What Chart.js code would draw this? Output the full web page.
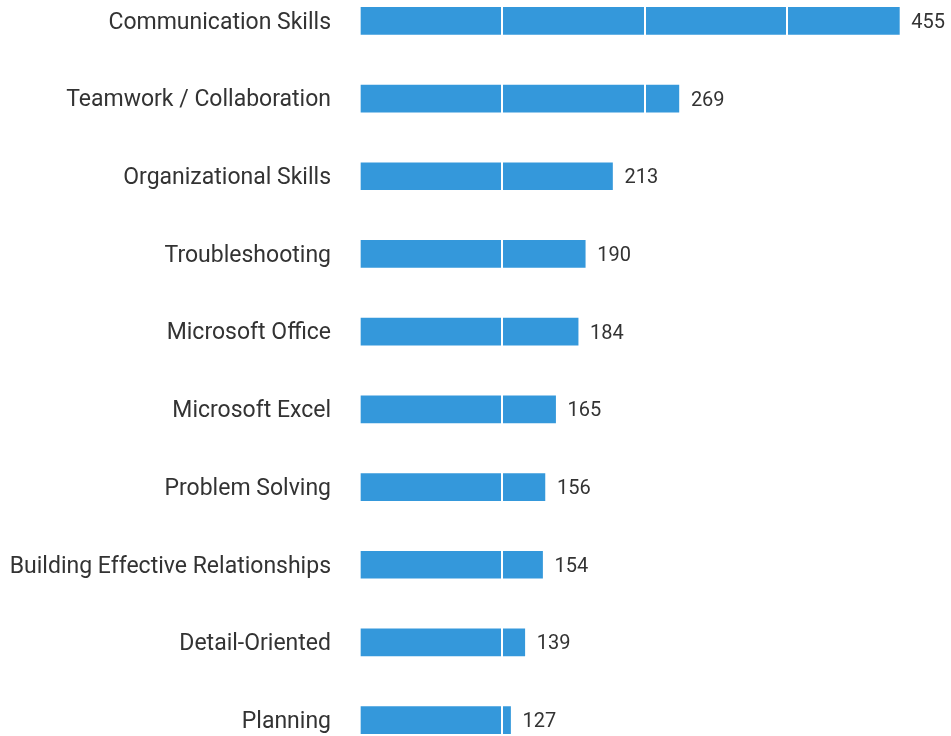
<!DOCTYPE html>
<html>
<head>
<meta charset="utf-8">
<script src="https://cdn.jsdelivr.net/npm/chart.js@4"></script>
<style>
    html, body { margin: 0; padding: 0; background: #fff; overflow: hidden; }
    #skillsChart { position: absolute; left: 0; top: -18px; }
</style>
</head>
<body>
<canvas id="skillsChart" width="951" height="777"></canvas>
<script>
// Habilidades más pedidas
const skills = [
    'Communication Skills',
    'Teamwork / Collaboration',
    'Organizational Skills',
    'Troubleshooting',
    'Microsoft Office',
    'Microsoft Excel',
    'Problem Solving',
    'Building Effective Relationships',
    'Detail-Oriented',
    'Planning'
];
const counts = [455, 269, 213, 190, 184, 165, 156, 154, 139, 127];

const barColor = '#3498db';
const textColor = '#333333';

// etiquetas de valor a la derecha de cada barra
const valueLabels = {
    id: 'valueLabels',
    afterDraw(chart) {
        const ctx = chart.ctx;
        const meta = chart.getDatasetMeta(0);
        ctx.save();
        ctx.font = '20px Roboto';
        ctx.fillStyle = textColor;
        ctx.textAlign = 'left';
        ctx.textBaseline = 'middle';
        meta.data.forEach((bar, i) => {
            ctx.fillText(String(counts[i]), bar.x + 12, bar.y + 2);
        });
        ctx.restore();
    }
};

const ctx = document.getElementById('skillsChart').getContext('2d');
new Chart(ctx, {
    type: 'bar',
    data: {
        labels: skills,
        datasets: [{
            data: counts,
            backgroundColor: barColor,
            borderWidth: 0,
            barThickness: 27
        }]
    },
    options: {
        indexAxis: 'y',
        responsive: false,
        animation: false,
        layout: { padding: { left: 0, right: 22, top: 0, bottom: 0 } },
        scales: {
            x: {
                min: 0,
                max: 480,
                border: { display: false },
                ticks: { display: false, stepSize: 120 },
                grid: {
                    z: 1, // lineas blancas encima de las barras
                    drawTicks: false,
                    lineWidth: 2,
                    color: c => (c.index === 0 ? 'rgba(0,0,0,0)' : '#ffffff')
                }
            },
            y: {
                border: { display: false },
                grid: { display: false, drawTicks: false },
                ticks: {
                    color: textColor,
                    font: { family: 'Roboto', size: 23 },
                    padding: 29,
                    labelOffset: 2
                },
                afterFit: scale => {
                    scale.width = 360;
                    scale.paddingTop = 0;
                    scale.paddingBottom = 0;
                }
            }
        },
        plugins: {
            legend: { display: false },
            tooltip: { enabled: false }
        }
    },
    plugins: [valueLabels]
});
</script>
</body>
</html>
